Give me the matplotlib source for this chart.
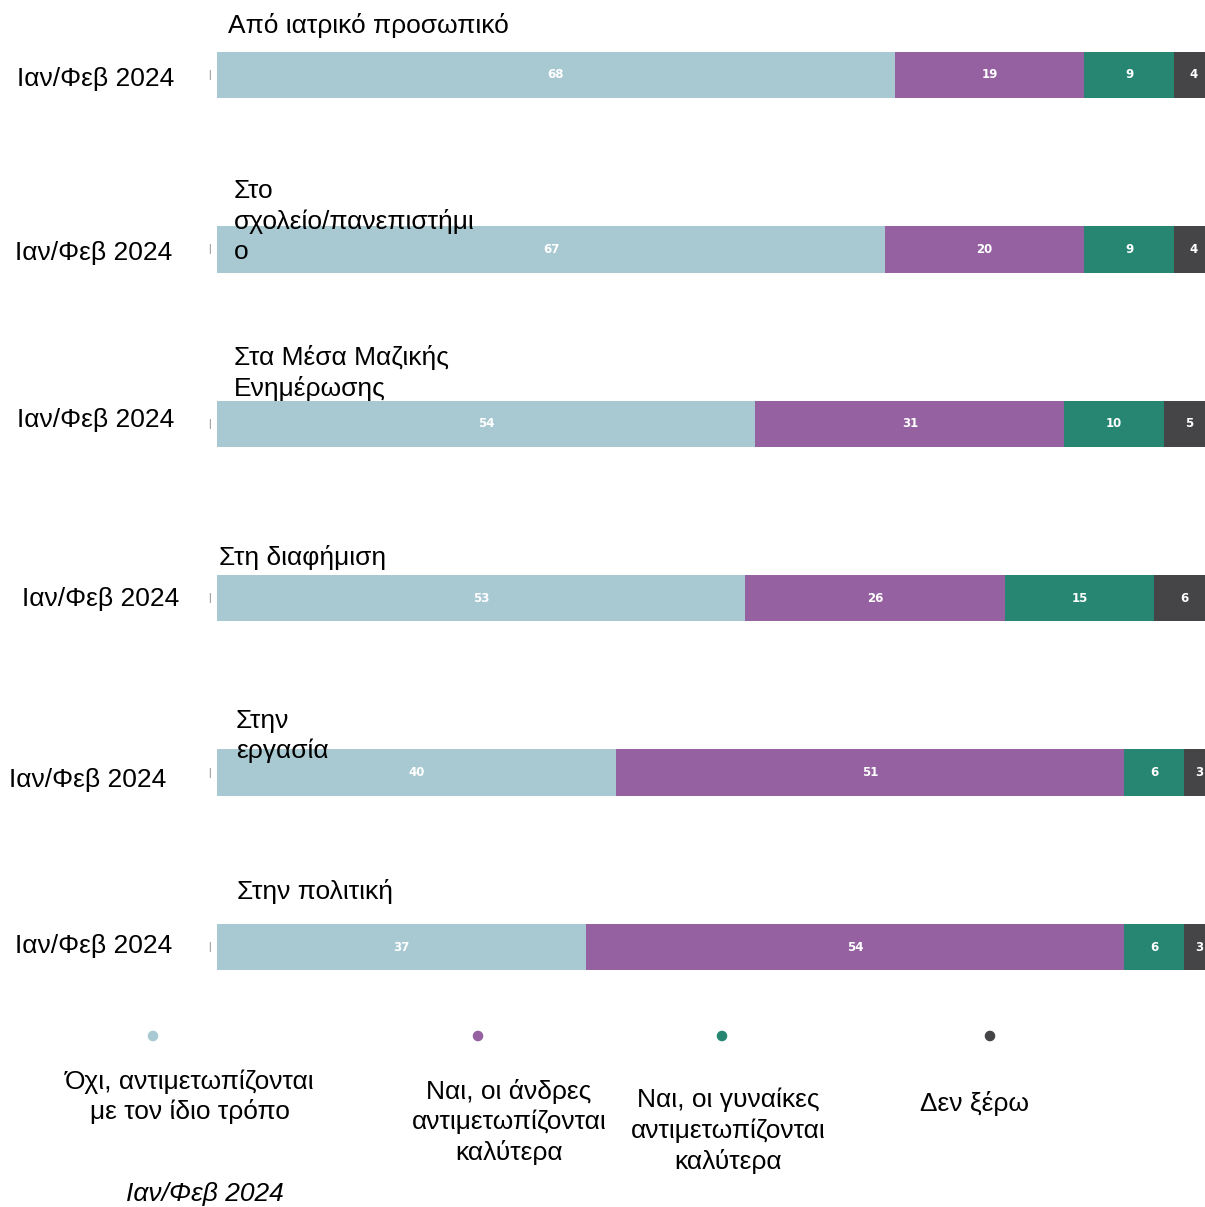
import matplotlib
matplotlib.use("Agg")
import matplotlib.pyplot as plt

plt.rcParams['font.family'] = ['Liberation Sans', 'DejaVu Sans']

# data
categories = ["Από ιατρικό προσωπικό",
              "Στο\nσχολείο/πανεπιστήμι\nο",
              "Στα Μέσα Μαζικής\nΕνημέρωσης",
              "Στη διαφήμιση",
              "Στην\nεργασία",
              "Στην πολιτική"]
period = "Ιαν/Φεβ 2024"
same = [68, 67, 54, 53, 40, 37]
men_better = [19, 20, 31, 26, 51, 54]
women_better = [9, 9, 10, 15, 6, 6]
dont_know = [4, 4, 5, 6, 3, 3]
series_names = ["Όχι, αντιμετωπίζονται\nμε τον ίδιο τρόπο",
                "Ναι, οι άνδρες\nαντιμετωπίζονται\nκαλύτερα",
                "Ναι, οι γυναίκες\nαντιμετωπίζονται\nκαλύτερα",
                "Δεν ξέρω"]
colors = ["#a8c9d1", "#9561a1", "#268672", "#454547"]

W, H = 1205, 1207
fig = plt.figure(figsize=(W / 100, H / 100), dpi=100)


def fx(px):
    return px / W


def fy(py):
    return 1 - py / H


FS = 19

# axes in pixel box
ax_top, ax_bot = 10, 1000
ax = fig.add_axes([fx(217), fy(ax_bot), 1 - fx(217), (ax_bot - ax_top) / H])
ax.set_xlim(0, 99.1)
unit = 174.4
ax.set_ylim((ax_bot - 75) / unit, (ax_top - 75) / unit)
ax.axis("off")

series = [same, men_better, women_better, dont_know]
ypos = list(range(len(categories)))
left = [0] * len(categories)
for vals, c in zip(series, colors):
    ax.barh(ypos, vals, left=left, height=0.265, color=c, edgecolor="none")
    for y, v, l in zip(ypos, vals, left):
        ax.text(l + v / 2, y, str(v), ha="center", va="center", color="white",
                fontsize=8.5, fontweight="bold", family="DejaVu Sans", clip_on=False)
    left = [a + b for a, b in zip(left, vals)]

# period labels and small ticks at the left
period_right = [174, 172, 174, 179, 166, 172]
period_y = [79, 253, 420, 599, 780, 946]
for y, r, py in zip(ypos, period_right, period_y):
    fig.text(fx(r), fy(py), period, ha="right", va="center", fontsize=FS)
    fig.text(fx(209), fy(75 + y * unit), "|", ha="center", va="center", fontsize=7,
             color="#777777")

# category titles
cat_x = [228, 234, 234, 219, 236, 237]
cat_y = [25, 191, 357, 557, 721, 891]
for txt, x, y in zip(categories, cat_x, cat_y):
    fig.text(fx(x), fy(y - 12), txt, ha="left", va="top", fontsize=FS, linespacing=1.3)

# legend
dot_x = [153, 478, 722, 990]
lab_x = [190, 509, 728, 974]
lab_y = [1081, 1091, 1100, 1103]
for name, c, dx, lx, ly in zip(series_names, colors, dot_x, lab_x, lab_y):
    fig.patches.append(plt.Circle((fx(dx), fy(1036)), 0.0038, transform=fig.transFigure,
                                  color=c))
    fig.text(fx(lx), fy(ly - 12), name, ha="center", va="top", fontsize=FS, linespacing=1.3)

fig.text(fx(205), fy(1194), period, ha="center", va="center", fontsize=FS, style="italic")

fig.savefig("out.png", dpi=100)
